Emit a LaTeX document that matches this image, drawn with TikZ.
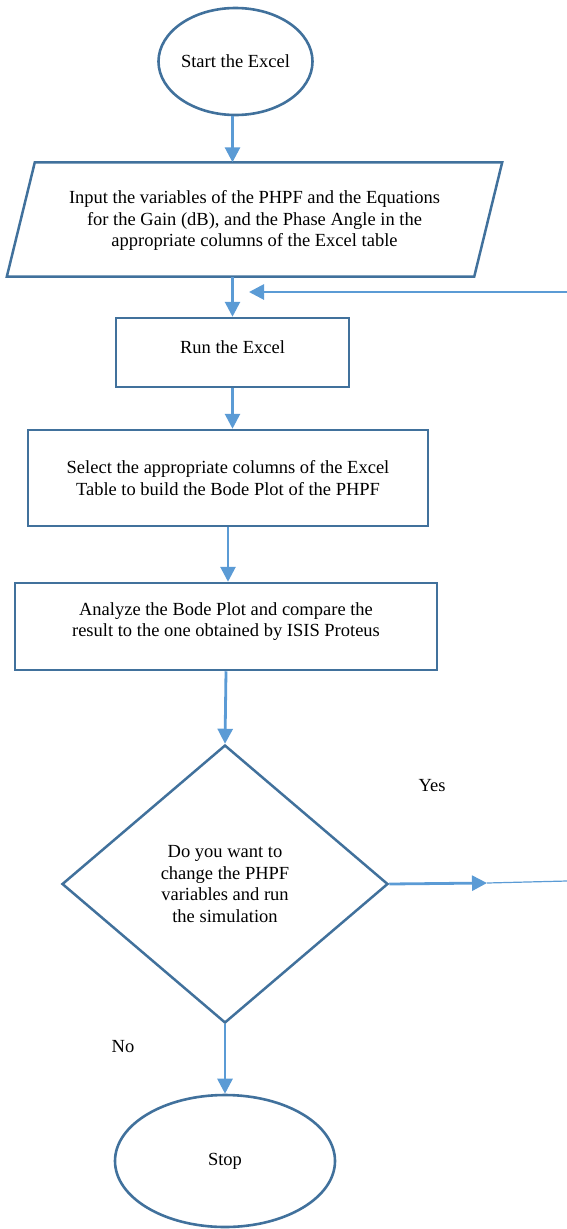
\documentclass[tikz,border=0pt]{standalone}
\usepackage{fontspec}
\setmainfont{Liberation Serif}
\usepackage{tikz}
\usetikzlibrary{positioning, arrows.meta, shapes.geometric, calc}

\definecolor{edgeblue}{RGB}{65,113,156}
\definecolor{flowblue}{RGB}{91,155,213}

\begin{document}
\begin{tikzpicture}[
    x=1pt, y=-1pt,
    every node/.style={font=\fontsize{18.5}{21.5}\selectfont, align=center, inner sep=0pt},
    terminal/.style={ellipse, draw=edgeblue, line width=2.6pt},
    process/.style={rectangle, draw=edgeblue, line width=2.5pt},
    decision/.style={diamond, draw=edgeblue, line width=2.5pt},
    flow/.style={draw=flowblue, line width=2.8pt, -{Triangle[length=15pt, width=15pt]}},
    tail/.style={draw=flowblue, line width=1.2pt}
]
\useasboundingbox (0,0) rectangle (567,1229);

\node[terminal, minimum width=147pt, minimum height=107pt] (start) at (235.5,61.5) {Start the Excel};
\node[minimum width=495pt, minimum height=114pt, text depth=2pt] (input) at (254.5,219.5)
    {Input the variables of the PHPF and the Equations\\for the Gain (dB), and the Phase Angle in the\\appropriate columns of the Excel table};
\draw[edgeblue, line width=2.5pt] ($(input.north west)+(28,0)$) -- (input.north east)
    -- ($(input.south east)-(28,0)$) -- (input.south west) -- cycle;
\node[process, minimum width=233pt, minimum height=69pt, text depth=10pt] (run) at (232.5,352.5) {Run the Excel};
\node[process, minimum width=400pt, minimum height=96pt] (select) at (228,478)
    {Select the appropriate columns of the Excel\\Table to build the Bode Plot of the PHPF};
\node[process, minimum width=422pt, minimum height=87pt, text depth=14pt] (analyze) at (226,626.5)
    {Analyze the Bode Plot and compare the\\result to the one obtained by ISIS Proteus};
\node[decision, minimum width=326pt, minimum height=278pt] (decide) at (225,884)
    {Do you want to\\change the PHPF\\variables and run\\the simulation};
\node[terminal, minimum width=220pt, minimum height=132pt] (stop) at (225,1161) {Stop};

\node (yes) at (432,786) {Yes};
\node (no) at (123,1047) {No};

\coordinate (loopin) at (567,292);
\coordinate (loopend) at (249,292);
\coordinate (yesmid) at (487,883);
\coordinate (yesout) at (567,881);

\draw[flow] (start.south -| run.north) -- (input.north -| run.north);
\draw[flow] (run.north |- input.south) -- (run.north);
\draw[flow] (loopin) -- (loopend);
\draw[flow] (run.south) -- (run.south |- select.north);
\draw[flow] (select.south) -- (analyze.north -| select.south);
\draw[flow] (analyze.south) -- (decide.north);
\draw[flow] (decide.east) -- (yesmid);
\draw[tail] (yesmid) -- (yesout);
\draw[flow] (decide.south) -- (stop.north);
\end{tikzpicture}
\end{document}
